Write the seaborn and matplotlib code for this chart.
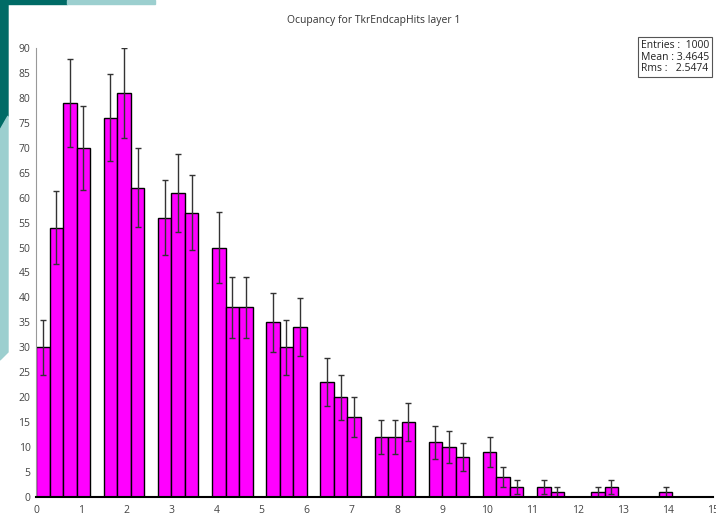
import numpy as np
import pandas as pd
import matplotlib
matplotlib.use("Agg")
import matplotlib.pyplot as plt
from matplotlib.patches import Polygon, Rectangle
import seaborn as sns

# histogram: 50 bins of width 0.3 between 0 and 15
bin_edges = np.round(np.arange(0, 15.01, 0.3), 2)
counts = [30, 54, 79, 70, 0, 76, 81, 62, 0, 56,
          61, 57, 0, 50, 38, 38, 0, 35, 30, 34,
          0, 23, 20, 16, 0, 12, 12, 15, 0, 11,
          10, 8, 0, 9, 4, 2, 0, 2, 1, 0,
          0, 1, 2, 0, 0, 0, 1, 0, 0, 0]
stats_lines = ["Entries :  1000", "Mean : 3.4645", "Rms :   2.5474"]
title = "Ocupancy for TkrEndcapHits layer 1"

centers = (bin_edges[:-1] + bin_edges[1:]) / 2
counts = np.array(counts)
df = pd.DataFrame({"center": centers, "count": counts})

sns.set_style("white")
plt.rcParams['font.family'] = ['Open Sans', 'DejaVu Sans']

fig = plt.figure(figsize=(7.16, 5.16), dpi=100)

# slide decoration in the corner
dark = "#006b66"
light = "#9ccfcf"
def px(x, y):
    return (x / 716, 1 - y / 516)
fig.patches.append(Rectangle(px(0, 4), 67/716, 4/516, transform=fig.transFigure, color=dark, zorder=0))
fig.patches.append(Rectangle(px(67, 4), 88/716, 4/516, transform=fig.transFigure, color=light, zorder=0))
fig.patches.append(Polygon([px(0, 0), px(8, 0), px(8, 116), px(0, 130)], closed=True,
                           transform=fig.transFigure, color=dark, zorder=0))
fig.patches.append(Polygon([px(0, 130), px(8, 116), px(8, 352), px(0, 360)], closed=True,
                           transform=fig.transFigure, color=light, zorder=0))

ax = fig.add_axes([36/716, 19/516, 677/716, 449/516])
sns.histplot(data=df, x="center", weights="count", bins=bin_edges.tolist(), color="#ff00ff",
             alpha=1, edgecolor="black", linewidth=1.0, ax=ax)
nz = counts > 0
ax.errorbar(centers[nz], counts[nz], yerr=np.sqrt(counts[nz]), fmt="none",
            ecolor="#333333", elinewidth=1, capsize=2.5, capthick=1)

ax.set_xlim(0, 15)
ax.set_ylim(0, 90)
ax.set_xticks(range(0, 16))
ax.set_yticks(range(0, 91, 5))
ax.set_xlabel("")
ax.set_ylabel("")
ax.tick_params(axis="both", direction="inout", length=6, width=1, color="#888888",
               labelsize=7.5, labelcolor="#444444", pad=1)
ax.tick_params(axis="x", pad=3)
for s in ["top", "right"]:
    ax.spines[s].set_visible(False)
ax.spines["left"].set_color("#999999")
ax.spines["bottom"].set_color("black")
ax.spines["bottom"].set_linewidth(1.5)
ax.set_facecolor("none")

fig.text(374/716, 1 - 20/516, title, ha="center", va="center", fontsize=7.5, color="#333333")
fig.text(675/716, 1 - 57/516, "\n".join(stats_lines), ha="center", va="center", fontsize=7.5,
         color="#222222", linespacing=1.1,
         bbox=dict(boxstyle="square,pad=0.25", facecolor="white", edgecolor="#555555", linewidth=0.8))

fig.savefig("out.png", dpi=100)
